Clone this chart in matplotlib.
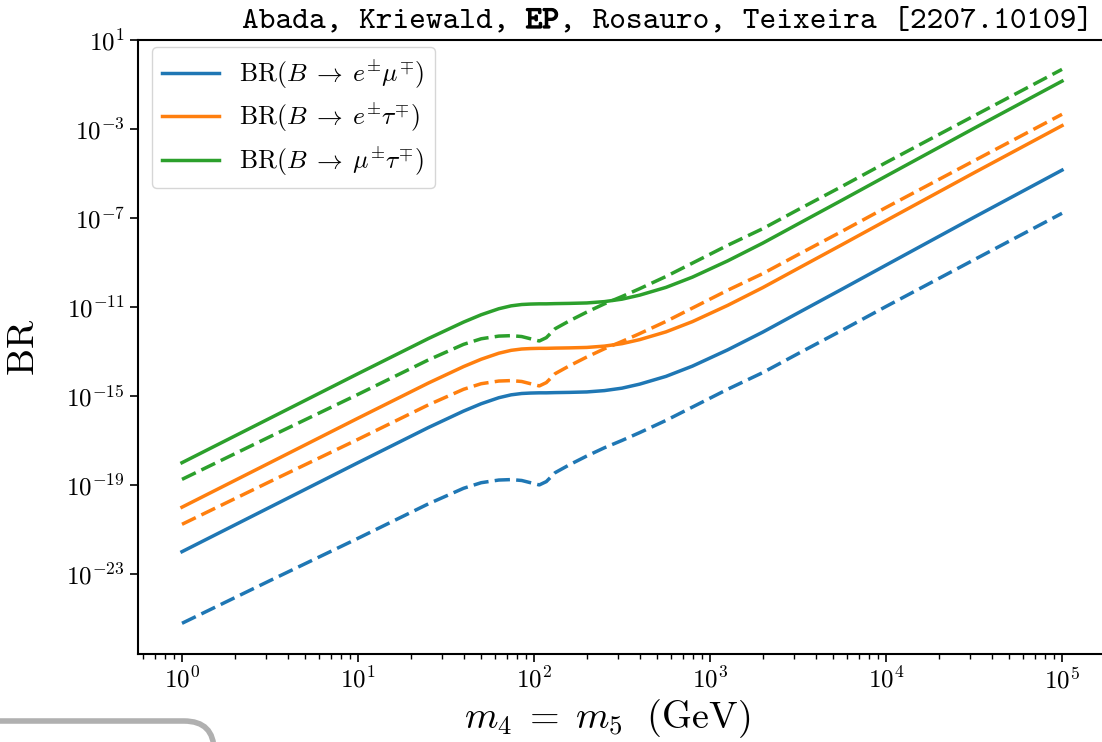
import numpy as np
import matplotlib
matplotlib.use("Agg")
import matplotlib.pyplot as plt
import matplotlib.patheffects as pe
from matplotlib.patches import FancyBboxPatch

# ==========================================
# fonts (Computer Modern look)
# ==========================================
plt.rcParams['mathtext.fontset'] = 'cm'
plt.rcParams['font.family'] = 'serif'
plt.rcParams['font.serif'] = ['cmr10', 'DejaVu Serif']
plt.rcParams['axes.unicode_minus'] = False

# ==========================================
# data, log10(BR)
# ==========================================
mass = [1, 3.162, 10, 25.12, 39.81, 50.12, 63.10, 74.13, 85.11, 95.50, 107.2,
        117.5, 131.8, 158.5, 199.5, 251.2, 316.2, 398.1, 562.3, 794.3, 1259,
        1995, 3162, 5623, 10000, 31623, 100000]

# solid lines
log_br_emu = [-22.0, -20.0, -18.0, -16.42, -15.68, -15.35, -15.08, -14.95, -14.89, -14.87, -14.86,
              -14.86, -14.85, -14.84, -14.82, -14.76, -14.65, -14.47, -14.12, -13.66, -12.93,
              -12.13, -11.27, -10.2, -9.12, -6.97, -4.85]
log_br_etau = [-20.0, -18.0, -16.0, -14.42, -13.68, -13.35, -13.08, -12.95, -12.89, -12.87, -12.86,
               -12.86, -12.85, -12.84, -12.82, -12.76, -12.65, -12.47, -12.12, -11.66, -10.93,
               -10.13, -9.27, -8.2, -7.12, -4.97, -2.85]
log_br_mutau = [-18.0, -16.0, -14.0, -12.42, -11.68, -11.35, -11.08, -10.95, -10.89, -10.87, -10.86,
                -10.86, -10.85, -10.84, -10.82, -10.76, -10.65, -10.47, -10.12, -9.66, -8.93,
                -8.13, -7.27, -6.2, -5.12, -2.97, -0.85]

# dashed lines
log_br_emu_d = [-25.22, -23.3, -21.4, -19.85, -19.15, -18.9, -18.78, -18.76, -18.8, -18.9, -19.0,
                -18.85, -18.45, -18.1, -17.7, -17.33, -17.0, -16.65, -16.1, -15.5, -14.7,
                -13.95, -13.1, -12.05, -10.98, -8.88, -6.79]
log_br_etau_d = [-20.77, -18.85, -16.95, -15.4, -14.7, -14.45, -14.33, -14.31, -14.35, -14.45, -14.55,
                 -14.4, -14.0, -13.65, -13.25, -12.88, -12.55, -12.2, -11.65, -11.05, -10.25,
                 -9.5, -8.65, -7.6, -6.53, -4.43, -2.34]
log_br_mutau_d = [-18.75, -16.83, -14.93, -13.38, -12.68, -12.43, -12.31, -12.29, -12.33, -12.43, -12.53,
                  -12.38, -11.98, -11.63, -11.23, -10.86, -10.53, -10.18, -9.63, -9.03, -8.23,
                  -7.48, -6.63, -5.58, -4.51, -2.41, -0.32]

labels = [r'$\mathrm{BR}(B\;\to\; e^{\pm}\mu^{\mp})$',
          r'$\mathrm{BR}(B\;\to\; e^{\pm}\tau^{\mp})$',
          r'$\mathrm{BR}(B\;\to\; \mu^{\pm}\tau^{\mp})$']
colors = ['#1f77b4', '#ff7f0e', '#2ca02c']

x_ticks = [1e0, 1e1, 1e2, 1e3, 1e4, 1e5]
x_tick_labels = [r'$10^{0}$', r'$10^{1}$', r'$10^{2}$', r'$10^{3}$', r'$10^{4}$', r'$10^{5}$']
y_ticks = [1e1, 1e-3, 1e-7, 1e-11, 1e-15, 1e-19, 1e-23]
y_tick_labels = [r'$10^{1}$', r'$10^{-3}$', r'$10^{-7}$', r'$10^{-11}$', r'$10^{-15}$',
                 r'$10^{-19}$', r'$10^{-23}$']

# ==========================================
# figure
# ==========================================
W, H = 1102, 742
fig = plt.figure(figsize=(W / 100, H / 100), dpi=100)
ax = fig.add_axes([138 / W, 88 / H, (1106 - 138) / W, (654 - 40) / H])

solids = [log_br_emu, log_br_etau, log_br_mutau]
dashes = [log_br_emu_d, log_br_etau_d, log_br_mutau_d]
for s, d, c, lab in zip(solids, dashes, colors, labels):
    ax.plot(mass, 10 ** np.array(s), color=c, lw=2.5, label=lab)
    ax.plot(mass, 10 ** np.array(d), color=c, lw=2.5, dashes=(4.4, 1.8))

ax.set_xscale('log')
ax.set_yscale('log')
ax.set_xlim(10 ** -0.25, 10 ** 5.25)
ax.set_ylim(10 ** -26.6, 10 ** 1.0)

ax.set_xticks(x_ticks)
ax.set_xticklabels(x_tick_labels)
ax.set_yticks(y_ticks)
ax.set_yticklabels(y_tick_labels)
ax.yaxis.set_minor_locator(matplotlib.ticker.NullLocator())
ax.tick_params(axis='both', which='major', labelsize=18, length=6, width=1.2)
ax.tick_params(axis='x', which='minor', length=3.5, width=1.0)

for sp in ax.spines.values():
    sp.set_linewidth(1.5)
ax.spines['right'].set_visible(False)

ax.set_xlabel(r'$m_4 \;=\; m_5\ \ (\mathrm{GeV})$', fontsize=27.5)
ax.xaxis.set_label_coords((607 - 138) / 968, -0.07)
ax.set_ylabel(r'$\mathrm{BR}$', fontsize=27.5)
ax.yaxis.set_label_coords(-0.10, 0.5)

ax.legend(loc='upper left', bbox_to_anchor=(0.0145, 0.9886), borderaxespad=0,
          fontsize=18.5, handlelength=2.2, labelspacing=0.4)

# title in typewriter font, right aligned, bold EP
ty = (H - 28) / H
TS = 22.9
t3 = fig.text(1093 / W, ty, ', Rosauro, Teixeira [2207.10109]', family='cmtt10',
              fontsize=TS, ha='right', va='baseline')
fig.canvas.draw()
r = fig.canvas.get_renderer()
x2 = t3.get_window_extent(r).x0 / W
t2 = fig.text(x2, ty, 'EP', family='cmtt10', fontsize=TS, ha='right', va='baseline',
              path_effects=[pe.withStroke(linewidth=0.9, foreground='black')])
fig.canvas.draw()
x1 = t2.get_window_extent(r).x0 / W
fig.text(x1, ty, 'Abada, Kriewald, ', family='cmtt10', fontsize=TS,
         ha='right', va='baseline')

# grey rounded frame peeking in at the bottom left
frame = FancyBboxPatch((-60, -60), 274, 81, boxstyle='round,pad=0,rounding_size=30',
                       transform=None, edgecolor='#b0b0b0', facecolor='white', lw=4,
                       clip_on=False)
fig.add_artist(frame)

fig.savefig('out.png', dpi=100)
